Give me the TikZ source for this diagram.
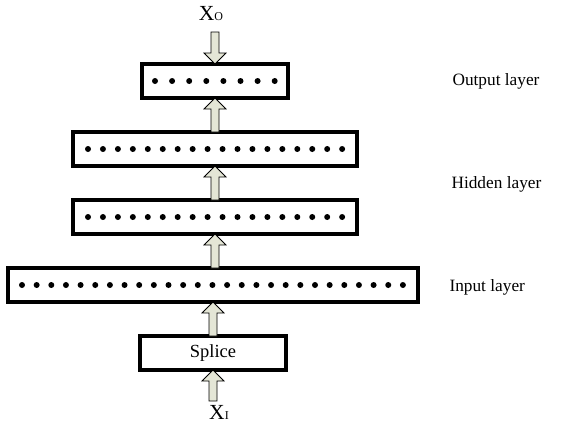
\documentclass[tikz,border=0pt]{standalone}
\usepackage{fontspec}
\setmainfont{Liberation Serif}
\usetikzlibrary{positioning}
\usetikzlibrary{calc}

\definecolor{arrowfill}{RGB}{228,230,214}

% fat hollow arrow from #1 to the tip #2 (vertical)
\newcommand{\blockarrow}[2]{%
    \filldraw[fatarrow] let \p1=(#1), \p2=(#2), \n1={sign(\y2-\y1)} in
        ({\x2-4pt},\y1) -- ({\x2-4pt},{\y2-11*\n1}) -- ({\x2-11pt},{\y2-11*\n1})
        -- (\x2,\y2) -- ({\x2+11pt},{\y2-11*\n1}) -- ({\x2+4pt},{\y2-11*\n1})
        -- ({\x2+4pt},\y1) -- cycle;
}

\begin{document}
\begin{tikzpicture}[
        x=1pt, y=1pt,
        node distance=34pt,
        layerbox/.style={rectangle, draw=black, line width=3.2pt, minimum height=34pt, inner sep=0pt, outer sep=0pt},
        fatarrow/.style={draw=black, fill=arrowfill, line width=0.8pt, line join=miter},
        layername/.style={anchor=west, font=\fontsize{17.3}{20}\selectfont}
    ]
        \useasboundingbox (0,0) rectangle (563,-432);

        \node [layerbox, minimum width=146pt] (outl) at (215,-81) {};
        \node [layerbox, minimum width=284pt] (hid2) [below = of outl] {};
        \node [layerbox, minimum width=284pt] (hid1) [below = of hid2] {};
        \node [layerbox, minimum width=410pt, xshift=-2pt] (inp) [below = of hid1] {};
        \node [layerbox, minimum width=146pt, font=\fontsize{18.5}{20}\selectfont] (splice) [below = of inp] {Splice};

        \node [anchor=base, inner sep=0pt] (xo) at (211,-20) {\fontsize{21.5}{21}\selectfont X\fontsize{12}{12}\selectfont O};
        \node [anchor=base, inner sep=0pt] (xi) at (219,-419) {\fontsize{21.5}{21}\selectfont X\fontsize{12}{12}\selectfont I};

        % Dots in the layers
        \foreach \i in {0,...,7} \fill ($(outl.west)+(13+\i*17.1,0)$) circle (3pt);
        \foreach \i in {0,...,17} \fill ($(hid2.west)+(15+\i*14.95,0)$) circle (3pt);
        \foreach \i in {0,...,17} \fill ($(hid1.west)+(15+\i*14.95,0)$) circle (3pt);
        \foreach \i in {0,...,26} \fill ($(inp.west)+(14+\i*14.65,0)$) circle (3pt);

        % Arrows between the layers
        \blockarrow{[yshift=-12pt]xo.base}{outl.north}
        \blockarrow{hid2.north}{outl.south}
        \blockarrow{hid1.north}{hid2.south}
        \blockarrow{inp.north}{hid1.south}
        \blockarrow{splice.north}{inp.south}
        \blockarrow{[yshift=18pt]xi.base}{splice.south}

        % Layer names
        \node [layername] (outname) at (449,-81) {Output layer};
        \node [layername] (hidname) at (448,-184) {Hidden layer};
        \node [layername] (inpname) at (446,-287) {Input layer};
\end{tikzpicture}
\end{document}
